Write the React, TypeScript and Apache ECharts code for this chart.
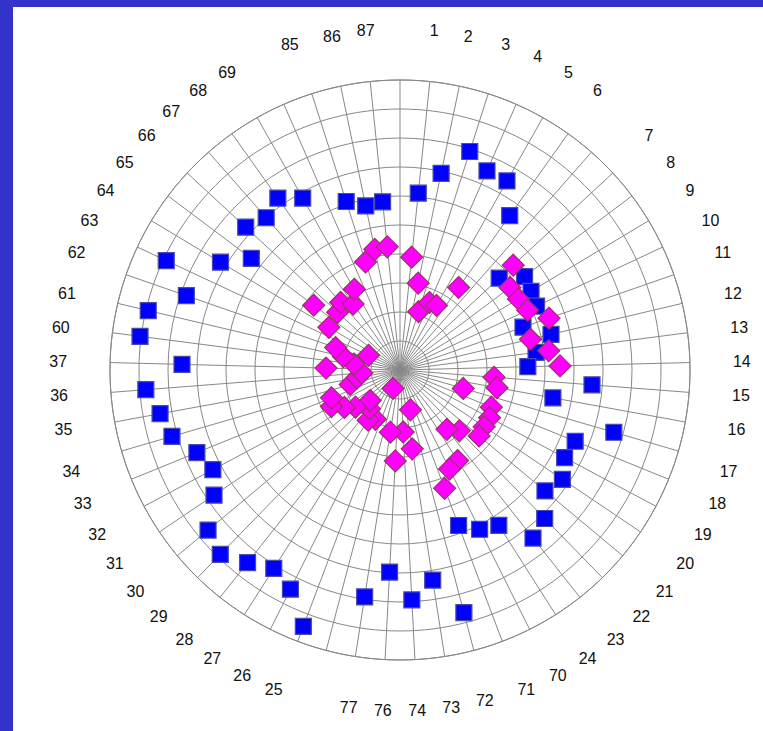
import React, { useEffect, useRef } from "react";
import * as echarts from "echarts";

// 61 angular categories, clockwise from the top; "" marks an unlabelled slot
const categories: string[] = [
  "", "1", "2", "3", "4", "5", "6", "",
  "7", "8", "9", "10", "11", "12", "13", "14", "15", "16", "17", "18", "19", "20", "21", "22", "23", "24",
  "70", "71", "72", "73", "74", "76", "77", "",
  "25", "26", "27", "28", "29", "30", "31", "32", "33", "34", "35", "36", "37",
  "60", "61", "62", "63", "64", "65", "66", "67", "68", "69", "",
  "85", "86", "87",
];

// radial values per category (null = no point)
const blueValues: (number | null)[] = [
  null, 6.13, 6.93, 7.91, 7.49, 7.49, 6.53, null,
  4.66, 5.37, 5.27, 5.2, 4.49, 5.35, 4.73, 4.41, 6.64, 5.36, 7.68, 6.52, 6.43, 6.75, 6.51, 7.15, 7.39,
  6.35, 6.14, 5.73, 8.65, 7.33, 7.94, 6.98, 7.92, null,
  9.45, 8.45, 8.11, 8.47, 8.88, 8.62, 7.73, 7.31, 7.56, 8.19, 8.41, 8.79, 7.52,
  9.04, 8.92, 7.8, 8.9, 7.22, 6.41, 7.25, 6.99, 7.27, 6.81, null,
  6.1, 5.78, 5.83,
];

const magentaValues: (number | null)[] = [
  null, 3.91, 3.06, 2.11, 2.54, 2.56, 3.49, null,
  5.32, 4.74, 4.76, 4.86, 5.44, 4.62, 5.17, 5.52, 3.25, 3.4, 2.27, 3.4, 3.5, 3.5, 3.55, 2.93, 2.61,
  3.7, 3.82, 4.36, 1.42, 2.75, 2.14, 3.14, 2.17, null,
  0.68, 1.9, 2.05, 1.7, 1.47, 2.0, 2.31, 2.68, 2.55, 1.79, 1.5, 1.32, 2.55,
  1.6, 2.0, 2.35, 1.2, 2.86, 3.72, 2.93, 3.1, 2.79, 3.2, null,
  3.91, 4.25, 4.27,
];

const radiusMax = 10;

function toPolarData(values: (number | null)[]) {
  const out: [number, number][] = [];
  values.forEach((v, i) => {
    if (v !== null) out.push([v, i]);
  });
  return out;
}

export default function App() {
  const ref = useRef<HTMLDivElement>(null);

  useEffect(() => {
    if (!ref.current) return;
    const chart = echarts.init(ref.current, undefined, { renderer: "svg" });
    chart.setOption({
      animation: false,
      backgroundColor: "#ffffff",
      polar: { center: [387, 363], radius: 290 },
      angleAxis: {
        type: "value",
        min: 0,
        max: categories.length,
        interval: 1,
        startAngle: 90,
        clockwise: true,
        axisLine: { show: true, lineStyle: { color: "#888888", width: 1 } },
        axisTick: { show: false },
        axisLabel: {
          show: true,
          margin: 43,
          color: "#111111",
          fontSize: 16,
          fontFamily: "Liberation Sans, Arial, sans-serif",
          formatter: (v: number) => categories[v] ?? "",
        },
        splitLine: { show: true, lineStyle: { color: "#888888", width: 1 } },
      },
      radiusAxis: {
        type: "value",
        min: 0,
        max: radiusMax,
        interval: 1,
        axisLine: { show: false },
        axisTick: { show: false },
        axisLabel: { show: false },
        splitLine: { show: true, lineStyle: { color: "#888888", width: 1 } },
      },
      series: [
        {
          type: "scatter",
          coordinateSystem: "polar",
          symbol: "rect",
          symbolSize: 16,
          itemStyle: { color: "#0000ff", borderColor: "#4a4aa8", borderWidth: 1.2, opacity: 1 },
          data: toPolarData(blueValues),
          z: 3,
        },
        {
          type: "scatter",
          coordinateSystem: "polar",
          symbol: "diamond",
          symbolSize: 22,
          itemStyle: { color: "#ff00ff", borderColor: "#993366", borderWidth: 1.2, opacity: 1 },
          data: toPolarData(magentaValues),
          z: 4,
        },
      ],
    });
    return () => chart.dispose();
  }, []);

  return (
    <div
      style={{
        position: "fixed",
        left: 0,
        top: 0,
        width: 763,
        height: 731,
        background: "#3333cc",
        overflow: "hidden",
      }}
    >
      <div
        ref={ref}
        style={{ position: "absolute", left: 13, top: 7, width: 750, height: 724, background: "#ffffff" }}
      />
    </div>
  );
}
